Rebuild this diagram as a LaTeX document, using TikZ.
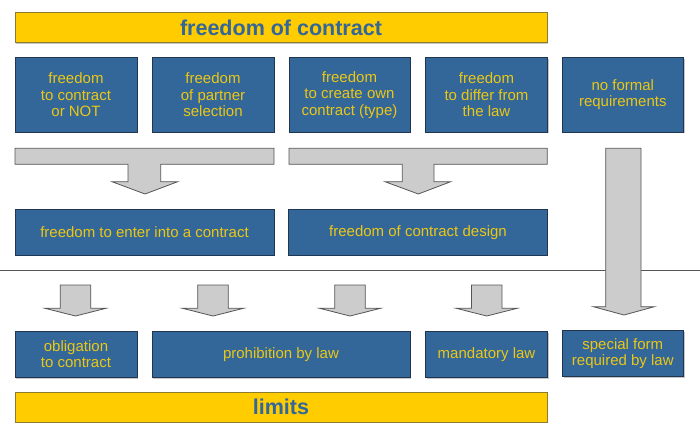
\documentclass[tikz,border=0pt]{standalone}
\usepackage{fontspec}
\setmainfont{Liberation Sans}
\usetikzlibrary{shadows}
\definecolor{boxblue}{HTML}{336699}
\definecolor{boxborder}{HTML}{1F3550}
\definecolor{txtyellow}{HTML}{EBC816}
\definecolor{baryellow}{HTML}{FFCC00}
\definecolor{barborder}{HTML}{8C7A2E}
\definecolor{arrowgray}{HTML}{CCCCCC}
\definecolor{arrowborder}{HTML}{555555}
\begin{document}
\begin{tikzpicture}[x=1pt,y=-1pt,
  shade/.style={drop shadow={shadow xshift=1.2pt,shadow yshift=-1.2pt,fill=black!22,opacity=1}},
  bluebox/.style={shade,draw=boxborder,fill=boxblue,line width=0.8pt,inner sep=0pt,outer sep=0pt,
    text=txtyellow,align=center,font=\fontsize{15}{16.5}\selectfont},
  yellowbar/.style={shade,draw=barborder,fill=baryellow,line width=0.8pt,inner sep=0pt,outer sep=0pt,
    text=boxblue,font=\fontsize{21.5}{24}\selectfont\bfseries,minimum width=532,minimum height=30},
  blockarrow/.style={draw=arrowborder,fill=arrowgray,line width=0.8pt,line join=miter}]
\useasboundingbox (0,0) rectangle (700,439);

% separator line (behind the long arrow)
\coordinate (sepL) at (0,270);
\coordinate (sepR) at (700,270);
\draw[arrowborder,line width=0.8pt] (sepL) -- (sepR);

% title and limits
\node[yellowbar] (title) at (281,27.5) {freedom of contract};
\node[yellowbar] (limits) at (281,407) {limits};

% top row
\node[bluebox,minimum width=122,minimum height=74.5] (b1) at (76,94.75) {freedom\\to contract\\ or NOT};
\node[bluebox,minimum width=122,minimum height=74.5] (b2) at (213,94.75) {freedom\\of partner\\selection};
\node[bluebox,minimum width=121,minimum height=74.5] (b3) at (349.5,94.75) {freedom\\to create own\\contract (type)};
\node[bluebox,minimum width=122,minimum height=74.5] (b4) at (486.5,94.75) {freedom\\to differ from\\the law};
\node[bluebox,minimum width=121,minimum height=74.5] (b5) at (622.8,94.75) {no formal\\requirements};

% middle row
\node[bluebox,minimum width=259,minimum height=45.7] (m1) at (144.5,232.2) {freedom to enter into a contract};
\node[bluebox,minimum width=258.5,minimum height=45.7] (m2) at (418,232.2) {freedom of contract design};

% bottom row
\node[bluebox,minimum width=122,minimum height=46] (c1) at (76,354.3) {obligation\\to contract};
\node[bluebox,minimum width=258,minimum height=46] (c2) at (281,354.3) {prohibition by law};
\node[bluebox,minimum width=122,minimum height=46] (c3) at (486.5,354.3) {mandatory law};
\node[bluebox,minimum width=121,minimum height=46] (c4) at (622.8,353.7) {special form\\required by law};

% T-shaped merging arrows
\draw[blockarrow] (15,148.3) -- (274,148.3) -- (274,164.3) -- (160.7,164.3) -- (160.7,181.7)
  -- (177.7,181.7) -- (145,194) -- (112,181.7) -- (128,181.7) -- (128,164.3) -- (15,164.3) -- cycle;
\draw[blockarrow] (289,148.3) -- (547.3,148.3) -- (547.3,164.3) -- (434,164.3) -- (434,181.7)
  -- (450.7,181.7) -- (418.3,194) -- (385,181.7) -- (402.3,181.7) -- (402.3,164.3) -- (289,164.3) -- cycle;

% long vertical arrow
\draw[blockarrow] (605.7,148.3) -- (641,148.3) -- (641,306.7) -- (654.3,306.7) -- (624,315)
  -- (593.3,306.7) -- (605.7,306.7) -- cycle;

% small arrows
\foreach \cx in {75.5,213,350,486.7}{
  \draw[blockarrow] (\cx-15.3,285) -- (\cx+15.3,285) -- (\cx+15.3,308.3) -- (\cx+30.5,308.3)
    -- (\cx,316) -- (\cx-30.5,308.3) -- (\cx-15.3,308.3) -- cycle;
}
\end{tikzpicture}
\end{document}
